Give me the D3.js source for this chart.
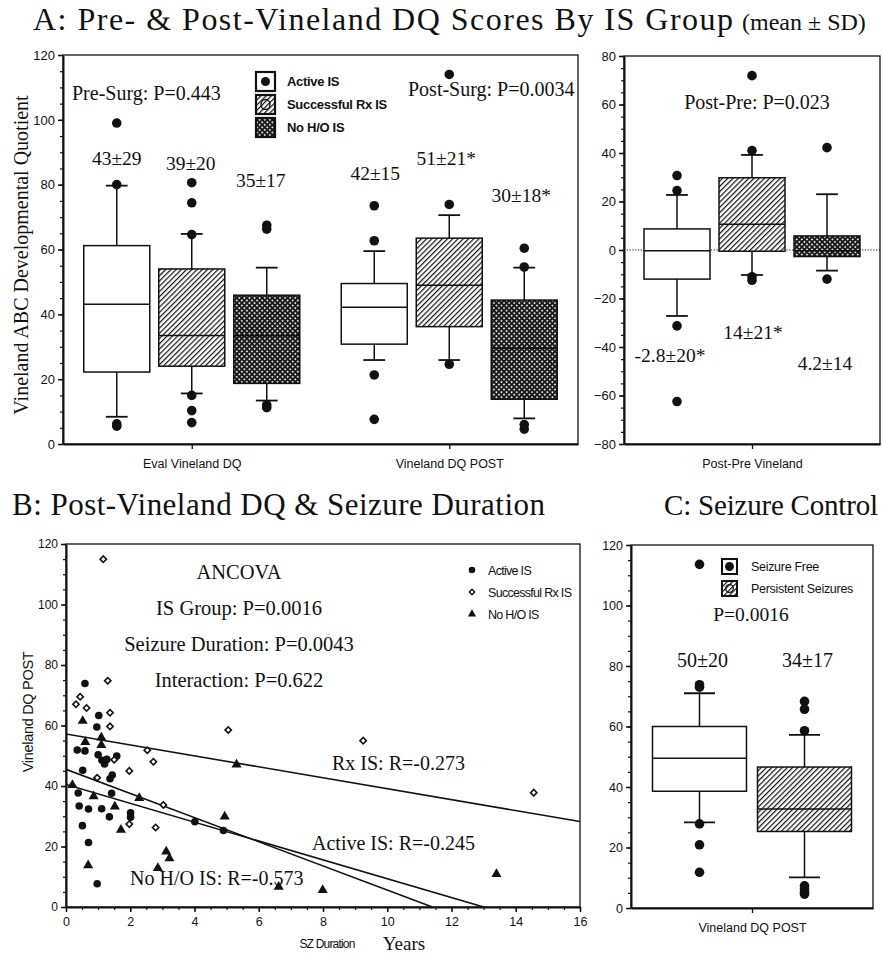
<!DOCTYPE html>
<html><head><meta charset="utf-8">
<script src="https://cdn.jsdelivr.net/npm/d3@7"></script>
<style>body{margin:0;background:#fff} svg{display:block}</style>
</head><body><svg id="c" width="883" height="955"></svg>
<script>
// ================= DATA =================
const isGroups = ["Active IS", "Successful Rx IS", "No H/O IS"];
const dqCategories = ["Eval Vineland DQ", "Vineland DQ POST"];
const diffCategory = ["Post-Pre Vineland"];
// box stats: [lowerWhisker, q1, median, q3, upperWhisker]
const evalStats = [[8.4, 22.2, 43.1, 61.2, 79.7], [15.6, 24, 33.5, 54, 64.8], [13.4, 18.7, 33.4, 45.9, 54.4]];
const evalOutliers = [[99, 80, 6.2, 5.5], [80.6, 74.4, 64.6, 15, 10.3, 6.6], [67.5, 66.3, 12.1, 11.2]];
const evalMeans = ["43±29", "39±20", "35±17"];
const postStats = [[25.9, 30.8, 42.2, 49.5, 59.5], [25.9, 36.2, 49, 63.5, 70.6], [7.9, 13.8, 29.5, 44.4, 54.4]];
const postOutliers = [[73.5, 62.7, 21.3, 7.6], [114, 73.9, 24.6], [60.4, 54.6, 6, 4.6]];
const postMeans = ["42±15", "51±21*", "30±18*"];
const diffStats = [[-27.2, -12, -0.3, 8.7, 22.7], [-10.3, -0.5, 10.6, 29.8, 39.2], [-8.5, -2.7, -0.3, 5.8, 23]];
const diffOutliers = [[30.7, 24.5, -31.3, -62.5], [71.9, 41, -11, -12.5], [42.2, -12]];
const diffMeans = ["-2.8±20*", "14±21*", "4.2±14"];
const panelAPvalues = ["Pre-Surg: P=0.443", "Post-Surg: P=0.0034", "Post-Pre: P=0.023"];

const sdGroups = ["Seizure Free", "Persistent Seizures"];
const sdCategory = ["Vineland DQ POST"];
const sdStats = [[28.3, 38.6, 49.5, 60, 71], [10.1, 25.3, 32.7, 46.6, 57.2]];
const sdOutliers = [[113.6, 73.8, 73, 27.8, 20.9, 11.8], [68.3, 65.7, 58.6, 7.3, 6.3, 5.3, 4.6]];
const sdMeans = ["50±20", "34±17"];
const sdPvalue = "P=0.0016";

// scatter: [seizure duration (years), Vineland DQ POST]
const activePts = [[0.59,73.9],[1.02,63.3],[0.96,59.5],[0.35,51.9],[0.59,51.6],[1.0,50.3],[1.12,48.5],[1.2,47.3],[1.27,48.8],[1.58,49.9],[0.52,45.2],[1.37,42.4],[1.44,43.6],[0.38,37.7],[1.42,37.6],[0.41,33.4],[0.7,32.4],[1.11,32.5],[1.35,29.8],[2.01,31.1],[2.01,29.7],[0.51,26.9],[0.7,21.3],[0.97,7.7],[4.01,28.2],[4.9,25.3]];
const rxPts = [[1.16,115],[1.3,74.8],[0.31,67],[0.44,69.5],[0.64,65.8],[1.37,64.2],[1.37,59.7],[1.5,48.7],[0.97,42.7],[1.97,45],[2.53,51.8],[2.72,48],[3.03,33.7],[1.97,27.4],[2.79,26.3],[5.05,58.5],[9.25,55],[14.56,37.8]];
const nohoPts = [[0.52,61.5],[0.6,54.5],[1.1,56],[1.1,53.5],[0.2,40.3],[0.86,36.6],[1.52,33.2],[2.28,36],[1.71,25.5],[0.69,13.8],[4.94,29.9],[2.86,12.9],[3.12,18.3],[3.22,16.1],[5.31,47.1],[6.62,6.7],[7.99,5.6],[13.4,10.9]];
const regNames = ["Active IS", "Rx IS", "No H/O IS"];
const regIntercepts = [40.5, 57.2, 45.5];
const regSlopes = [-3.115, -1.81, -3.99];
const regR = ["-0.245", "-0.273", "-0.573"];
const ancovaText = ["ANCOVA", "IS Group:  P=0.0016", "Seizure Duration:  P=0.0043", "Interaction:  P=0.622"];
const scatterLegend = ["Active IS", "Successful Rx IS", "No H/O IS"];

// ================= DRAWING =================
const SERIF = "'Liberation Serif','Times New Roman',serif";
const SANS = "'Liberation Sans',Arial,sans-serif";
const svg = d3.select("#c");
svg.append("rect").attr("width", 883).attr("height", 955).attr("fill", "#fff");
const defs = svg.append("defs");
const hp = defs.append("pattern").attr("id", "hatch").attr("patternUnits", "userSpaceOnUse")
  .attr("width", 3.7).attr("height", 3.7).attr("patternTransform", "rotate(45)");
hp.append("rect").attr("width", 3.7).attr("height", 3.7).attr("fill", "#fff");
hp.append("line").attr("x1", 0.6).attr("x2", 0.6).attr("y1", 0).attr("y2", 3.7).attr("stroke", "#111").attr("stroke-width", 1.2);
const cp = defs.append("pattern").attr("id", "cross").attr("patternUnits", "userSpaceOnUse")
  .attr("width", 3.6).attr("height", 3.6).attr("patternTransform", "rotate(45)");
cp.append("rect").attr("width", 3.6).attr("height", 3.6).attr("fill", "#1a1a1a");
cp.append("rect").attr("x", 1.1).attr("y", 1.1).attr("width", 1.6).attr("height", 1.6).attr("fill", "#fff");
const fills = ["#fff", "url(#hatch)", "url(#cross)"];

function txt(g, x, y, s, size, font, anchor) {
  return g.append("text").attr("x", x).attr("y", y).attr("font-family", font || SERIF)
    .attr("font-size", size).attr("text-anchor", anchor || "start").attr("fill", "#111").text(s);
}

function frame(x0, x1, y0, y1) {
  svg.append("rect").attr("x", x0).attr("y", y0).attr("width", x1 - x0).attr("height", y1 - y0)
    .attr("fill", "none").attr("stroke", "#111").attr("stroke-width", 1.3);
}

function yAxis(x0, y, majors, minorStep, size) {
  const g = svg.append("g").attr("transform", `translate(${x0},0)`);
  const d = y.domain();
  const minors = d3.range(d[0], d[1] + 0.001, minorStep);
  const mg = svg.append("g").attr("transform", `translate(${x0},0)`)
    .call(d3.axisLeft(y).tickValues(minors).tickSize(3).tickFormat(""));
  mg.select(".domain").remove();
  mg.selectAll("line").attr("stroke", "#111").attr("stroke-width", 1.2);
  g.call(d3.axisLeft(y).tickValues(majors).tickSize(5).tickSizeOuter(0).tickPadding(3));
  g.select(".domain").attr("stroke", "#111").attr("stroke-width", 2);
  g.selectAll("line").attr("stroke", "#111").attr("stroke-width", 1.5);
  g.selectAll("text").attr("font-family", SANS).attr("font-size", size || 13).attr("fill", "#111");
}

function catAxis(y1, x, cats) {
  const g = svg.append("g").attr("transform", `translate(0,${y1})`)
    .call(d3.axisBottom(x).tickSize(5).tickSizeOuter(0).tickPadding(10));
  g.select(".domain").attr("stroke", "#111").attr("stroke-width", 2);
  g.selectAll("line").attr("stroke", "#111").attr("stroke-width", 1.3);
  g.selectAll("text").attr("font-family", SANS).attr("font-size", 12.5).attr("fill", "#111");
}

function drawBox(cx, w, st, y, fill, outs) {
  const [lo, q1, md, q3, hi] = st;
  const g = svg.append("g").attr("stroke", "#111").attr("stroke-width", 1.5);
  const cap = w * 0.33;
  g.append("line").attr("x1", cx).attr("x2", cx).attr("y1", y(hi)).attr("y2", y(q3));
  g.append("line").attr("x1", cx).attr("x2", cx).attr("y1", y(q1)).attr("y2", y(lo));
  g.append("line").attr("x1", cx - cap / 2).attr("x2", cx + cap / 2).attr("y1", y(hi)).attr("y2", y(hi)).attr("stroke-width", 1.8);
  g.append("line").attr("x1", cx - cap / 2).attr("x2", cx + cap / 2).attr("y1", y(lo)).attr("y2", y(lo)).attr("stroke-width", 1.8);
  g.append("rect").attr("x", cx - w / 2).attr("y", y(q3)).attr("width", w).attr("height", y(q1) - y(q3)).attr("fill", fill);
  g.append("line").attr("x1", cx - w / 2).attr("x2", cx + w / 2).attr("y1", y(md)).attr("y2", y(md));
  svg.append("g").selectAll("circle").data(outs).join("circle")
    .attr("cx", cx).attr("cy", v => y(v)).attr("r", 4.8).attr("fill", "#111");
}

// ---------- Panel A (left) ----------
{
  const X0 = 63, X1 = 578, Y0 = 55, Y1 = 444;
  const y = d3.scaleLinear([0, 120], [Y1, Y0]);
  const x = d3.scalePoint(dqCategories, [X0, X1]).padding(0.5);
  const inner = d3.scaleBand(isGroups, [-108, 108]).paddingInner(0.12);
  const bw = inner.bandwidth();
  frame(X0, X1, Y0, Y1);
  yAxis(X0, y, d3.range(0, 121, 20), 5);
  catAxis(Y1, x, dqCategories);
  const sets = [[evalStats, evalOutliers, evalMeans, [88.2, 86.7, 81.4], [0, -1, -6]],
                [postStats, postOutliers, postMeans, [83.6, 88.2, 76.8], [1, -3, -3]]];
  dqCategories.forEach((c, ci) => {
    const [st, out, means, my, dx] = sets[ci];
    isGroups.forEach((gname, gi) => {
      const cx = x(c) + inner(gname) + bw / 2;
      drawBox(cx, bw, st[gi], y, fills[gi], out[gi]);
      txt(svg, cx + dx[gi], y(my[gi]) + 7, means[gi], 19.5, SERIF, "middle");
    });
  });
  txt(svg, 72, 100, panelAPvalues[0], 20);
  txt(svg, 408, 96, panelAPvalues[1], 20);
  // legend
  const lg = svg.append("g");
  isGroups.forEach((gname, i) => {
    const yy = 72 + i * 23;
    lg.append("rect").attr("x", 256).attr("y", yy).attr("width", 19).attr("height", 19)
      .attr("fill", fills[i]).attr("stroke", "#111").attr("stroke-width", 2.2);
    if (i === 0) lg.append("circle").attr("cx", 265.5).attr("cy", yy + 9.5).attr("r", 4.5).attr("fill", "#111");
    if (i === 1) lg.append("ellipse").attr("cx", 265.5).attr("cy", yy + 9.5).attr("rx", 4.5).attr("ry", 5).attr("fill", "none").attr("stroke", "#111").attr("stroke-width", 1.4);
    txt(lg, 287, yy + 14, gname, 13, SANS).attr("font-weight", "bold").attr("letter-spacing", -0.3);
  });
  // y label
  txt(svg, 0, 0, "Vineland ABC Developmental Quotient", 20, SERIF, "middle")
    .attr("transform", "translate(28,255) rotate(-90)");
}

// ---------- Panel A (right) ----------
{
  const X0 = 624, X1 = 880, Y0 = 56, Y1 = 444;
  const y = d3.scaleLinear([-80, 80], [Y1, Y0]);
  const x = d3.scalePoint(diffCategory, [X0, X1]).padding(0.5);
  const inner = d3.scaleBand(isGroups, [-108, 108]).paddingInner(0.12);
  const bw = inner.bandwidth();
  frame(X0, X1, Y0, Y1);
  svg.append("line").attr("x1", X0).attr("x2", X1).attr("y1", y(0)).attr("y2", y(0))
    .attr("stroke", "#111").attr("stroke-width", 1.1).attr("stroke-dasharray", "1.2,1.6");
  yAxis(X0, y, d3.range(-80, 81, 20), 5);
  catAxis(Y1, x, diffCategory);
  const my = [-43.3, -33.8, -46.4], dx = [-7, 1, -2];
  isGroups.forEach((gname, gi) => {
    const cx = x(diffCategory[0]) + inner(gname) + bw / 2;
    drawBox(cx, bw, diffStats[gi], y, fills[gi], diffOutliers[gi]);
    txt(svg, cx + dx[gi], y(my[gi]) + 7, diffMeans[gi], 19.5, SERIF, "middle");
  });
  txt(svg, 757, 109, panelAPvalues[2], 20, SERIF, "middle");
}

// ---------- Titles ----------
{
  const t = svg.append("text").attr("y", 30).attr("font-family", SERIF).attr("fill", "#111");
  t.append("tspan").attr("x", 33).attr("font-size", 32).attr("textLength", 700).attr("lengthAdjust", "spacing")
    .text("A:  Pre- & Post-Vineland DQ Scores By IS Group");
  t.append("tspan").attr("x", 742).attr("font-size", 24)
    .text("(mean ± SD)");
  txt(svg, 12, 515, "B:  Post-Vineland DQ & Seizure Duration", 31).attr("textLength", 533).attr("lengthAdjust", "spacing");
  txt(svg, 664, 515, "C:  Seizure Control", 29).attr("textLength", 214).attr("lengthAdjust", "spacing");
}

// ---------- Panel B ----------
{
  const X0 = 66, X1 = 580, Y0 = 544, Y1 = 907;
  const x = d3.scaleLinear([0, 16], [X0, X1]);
  const y = d3.scaleLinear([0, 120], [Y1, Y0]);
  frame(X0, X1, Y0, Y1);
  yAxis(X0, y, d3.range(0, 121, 20), 5, 12);
  const mg = svg.append("g").attr("transform", `translate(0,${Y1})`)
    .call(d3.axisBottom(x).tickValues(d3.range(0, 16.01, 0.5)).tickSize(3).tickFormat(""));
  mg.select(".domain").remove();
  mg.selectAll("line").attr("stroke", "#111").attr("stroke-width", 1.2);
  const xg = svg.append("g").attr("transform", `translate(0,${Y1})`)
    .call(d3.axisBottom(x).tickValues(d3.range(0, 17, 2)).tickSize(5).tickSizeOuter(0).tickPadding(5));
  xg.select(".domain").attr("stroke", "#111").attr("stroke-width", 2);
  xg.selectAll("line").attr("stroke", "#111").attr("stroke-width", 1.5);
  xg.selectAll("text").attr("font-family", SANS).attr("font-size", 12.5).attr("fill", "#111");

  // regression lines
  const clip = defs.append("clipPath").attr("id", "clipB");
  clip.append("rect").attr("x", X0).attr("y", Y0).attr("width", X1 - X0).attr("height", Y1 - Y0);
  const lg = svg.append("g").attr("clip-path", "url(#clipB)");
  regNames.forEach((n, i) => {
    const a = regIntercepts[i], b = regSlopes[i];
    const xe = Math.min(16, -a / b);
    lg.append("line").attr("x1", x(0)).attr("y1", y(a)).attr("x2", x(xe)).attr("y2", y(a + b * xe))
      .attr("stroke", "#111").attr("stroke-width", 1.6);
  });
  // points
  const pg = svg.append("g");
  pg.selectAll(".act").data(activePts).join("circle").attr("cx", d => x(d[0])).attr("cy", d => y(d[1]))
    .attr("r", 3.8).attr("fill", "#111");
  const tri = d3.symbol(d3.symbolTriangle, 44)();
  pg.selectAll(".tri").data(nohoPts).join("path").attr("d", tri)
    .attr("transform", d => `translate(${x(d[0])},${y(d[1])})`).attr("fill", "#111");
  const dia = d3.symbol(d3.symbolSquare, 20)();
  pg.selectAll(".dia").data(rxPts).join("path").attr("d", dia)
    .attr("transform", d => `translate(${x(d[0])},${y(d[1])}) rotate(45)`).attr("fill", "#fff").attr("stroke", "#111").attr("stroke-width", 1.6);

  // ANCOVA text
  [578, 614, 650, 686].forEach((yy, i) => txt(svg, 239, yy + 1, ancovaText[i], 20.5, SERIF, "middle"));
  txt(svg, 332, 770, `Rx IS: R=${regR[1]}`, 20);
  txt(svg, 312, 850, `Active IS: R=${regR[0]}`, 20);
  txt(svg, 130, 885, `No H/O IS: R=${regR[2]}`, 20);

  // legend
  const sym = [d3.symbol(d3.symbolCircle, 34)(), d3.symbol(d3.symbolSquare, 14)(), d3.symbol(d3.symbolTriangle, 30)()];
  scatterLegend.forEach((s, i) => {
    const yy = 570 + i * 22;
    svg.append("path").attr("d", sym[i]).attr("transform", `translate(472,${yy})` + (i === 1 ? " rotate(45)" : ""))
      .attr("fill", i === 1 ? "#fff" : "#111").attr("stroke", i === 1 ? "#111" : "none").attr("stroke-width", 1.4);
    txt(svg, 488, yy + 4.5, s, 12.5, SANS).attr("letter-spacing", -0.7);
  });
  txt(svg, 327, 948, "SZ Duration", 12, SANS, "middle").attr("letter-spacing", -0.8);
  txt(svg, 404, 950, "Years", 19, SERIF, "middle");
  txt(svg, 0, 0, "Vineland DQ POST", 14.5, SANS, "middle").attr("letter-spacing", -0.3)
    .attr("transform", "translate(33,712) rotate(-90)");
}

// ---------- Panel C ----------
{
  const X0 = 631, X1 = 873, Y0 = 545, Y1 = 908;
  const y = d3.scaleLinear([0, 120], [Y1, Y0]);
  const x = d3.scalePoint(sdCategory, [X0, X1]).padding(0.5);
  const inner = d3.scaleBand(sdGroups, [-99.5, 99.5]).paddingInner(0.105);
  const bw = inner.bandwidth();
  frame(X0, X1, Y0, Y1);
  yAxis(X0, y, d3.range(0, 121, 20), 5, 12.5);
  catAxis(Y1, x, sdCategory);
  const sfills = ["#fff", "url(#hatch)"];
  sdGroups.forEach((gname, gi) => {
    const cx = x(sdCategory[0]) + inner(gname) + bw / 2;
    drawBox(cx, bw, sdStats[gi], y, sfills[gi], sdOutliers[gi]);
    txt(svg, cx + 3, y(82) + 7, sdMeans[gi], 20, SERIF, "middle");
  });
  txt(svg, 751, 621, sdPvalue, 19.5, SERIF, "middle");
  sdGroups.forEach((s, i) => {
    const yy = 559 + i * 22;
    svg.append("rect").attr("x", 722).attr("y", yy).attr("width", 15).attr("height", 15)
      .attr("fill", sfills[i]).attr("stroke", "#111").attr("stroke-width", 2);
    svg.append("circle").attr("cx", 729.5).attr("cy", yy + 7.5).attr("r", 3.8)
      .attr("fill", i === 0 ? "#111" : "none").attr("stroke", "#111").attr("stroke-width", 1.3);
    txt(svg, 751, yy + 12, s, 12.5, SANS).attr("letter-spacing", -0.3);
  });
}
</script></body></html>
